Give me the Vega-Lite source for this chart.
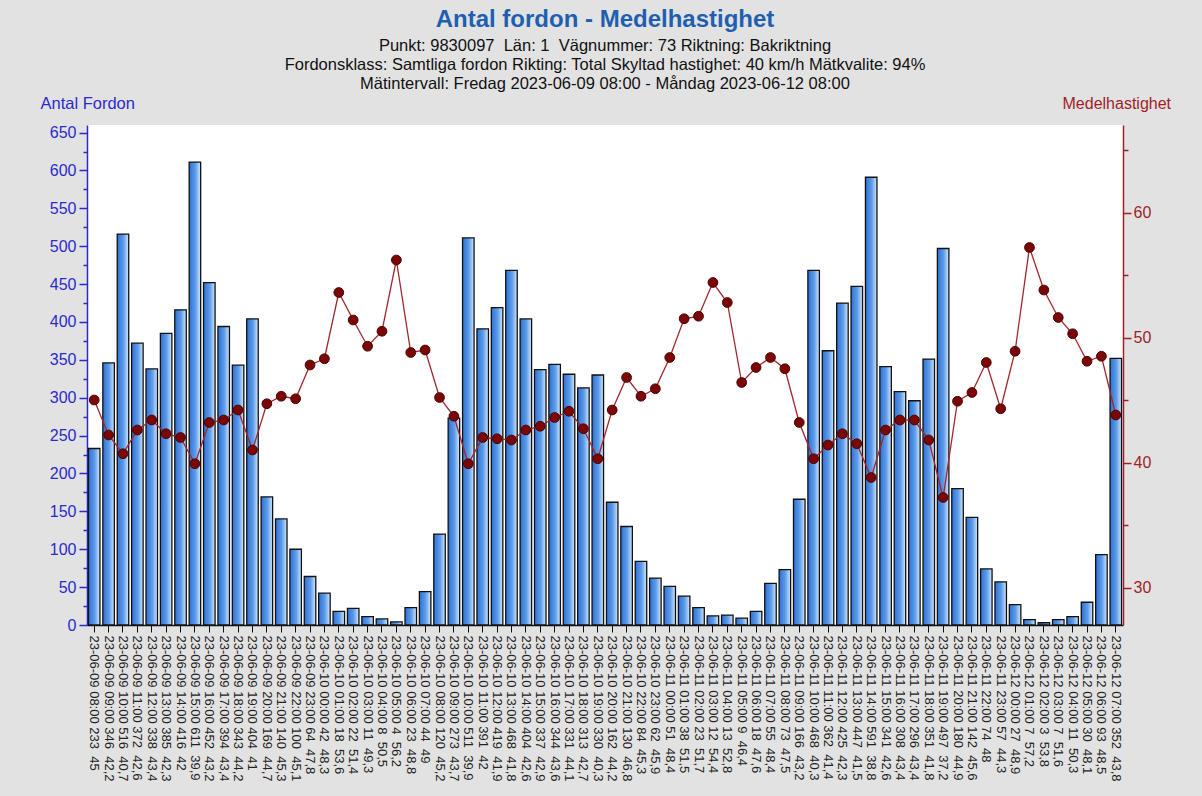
{
  "$schema": "https://vega.github.io/schema/vega-lite/v6.json",
  "width": 1036,
  "height": 500,
  "autosize": {"type": "none"},
  "padding": {"left": 87, "top": 125, "right": 79, "bottom": 171},
  "background": "#e2e2e2",
  "config": {"view": {"fill": "white", "stroke": null}, "font": "Liberation Sans"},
  "title": {
    "text": "Antal fordon - Medelhastighet",
    "subtitle": [
      "Punkt: 9830097\u00a0 Län: 1\u00a0 Vägnummer: 73 Riktning: Bakriktning",
      "Fordonsklass: Samtliga fordon Rikting: Total Skyltad hastighet: 40 km/h Mätkvalite: 94%",
      "Mätintervall: Fredag 2023-06-09 08:00 - Måndag 2023-06-12 08:00"
    ],
    "color": "#1f5fb0",
    "fontSize": 24,
    "fontWeight": "bold",
    "subtitleColor": "#111111",
    "subtitleFontSize": 16.5,
    "subtitleLineHeight": 19,
    "subtitlePadding": 6,
    "anchor": "middle",
    "frame": "group",
    "offset": 3
  },
  "data": {
    "values": [
      {"label": "23-06-09 08:00 233\u00a0\u00a045", "n": 233, "v": 45},
      {"label": "23-06-09 09:00 346\u00a0\u00a042,2", "n": 346, "v": 42.2},
      {"label": "23-06-09 10:00 516\u00a0\u00a040,7", "n": 516, "v": 40.7},
      {"label": "23-06-09 11:00 372\u00a0\u00a042,6", "n": 372, "v": 42.6},
      {"label": "23-06-09 12:00 338\u00a0\u00a043,4", "n": 338, "v": 43.4},
      {"label": "23-06-09 13:00 385\u00a0\u00a042,3", "n": 385, "v": 42.3},
      {"label": "23-06-09 14:00 416\u00a0\u00a042", "n": 416, "v": 42},
      {"label": "23-06-09 15:00 611\u00a0\u00a039,9", "n": 611, "v": 39.9},
      {"label": "23-06-09 16:00 452\u00a0\u00a043,2", "n": 452, "v": 43.2},
      {"label": "23-06-09 17:00 394\u00a0\u00a043,4", "n": 394, "v": 43.4},
      {"label": "23-06-09 18:00 343\u00a0\u00a044,2", "n": 343, "v": 44.2},
      {"label": "23-06-09 19:00 404\u00a0\u00a041", "n": 404, "v": 41},
      {"label": "23-06-09 20:00 169\u00a0\u00a044,7", "n": 169, "v": 44.7},
      {"label": "23-06-09 21:00 140\u00a0\u00a045,3", "n": 140, "v": 45.3},
      {"label": "23-06-09 22:00 100\u00a0\u00a045,1", "n": 100, "v": 45.1},
      {"label": "23-06-09 23:00 64\u00a0\u00a047,8", "n": 64, "v": 47.8},
      {"label": "23-06-10 00:00 42\u00a0\u00a048,3", "n": 42, "v": 48.3},
      {"label": "23-06-10 01:00 18\u00a0\u00a053,6", "n": 18, "v": 53.6},
      {"label": "23-06-10 02:00 22\u00a0\u00a051,4", "n": 22, "v": 51.4},
      {"label": "23-06-10 03:00 11\u00a0\u00a049,3", "n": 11, "v": 49.3},
      {"label": "23-06-10 04:00 8\u00a0\u00a050,5", "n": 8, "v": 50.5},
      {"label": "23-06-10 05:00 4\u00a0\u00a056,2", "n": 4, "v": 56.2},
      {"label": "23-06-10 06:00 23\u00a0\u00a048,8", "n": 23, "v": 48.8},
      {"label": "23-06-10 07:00 44\u00a0\u00a049", "n": 44, "v": 49},
      {"label": "23-06-10 08:00 120\u00a0\u00a045,2", "n": 120, "v": 45.2},
      {"label": "23-06-10 09:00 273\u00a0\u00a043,7", "n": 273, "v": 43.7},
      {"label": "23-06-10 10:00 511\u00a0\u00a039,9", "n": 511, "v": 39.9},
      {"label": "23-06-10 11:00 391\u00a0\u00a042", "n": 391, "v": 42},
      {"label": "23-06-10 12:00 419\u00a0\u00a041,9", "n": 419, "v": 41.9},
      {"label": "23-06-10 13:00 468\u00a0\u00a041,8", "n": 468, "v": 41.8},
      {"label": "23-06-10 14:00 404\u00a0\u00a042,6", "n": 404, "v": 42.6},
      {"label": "23-06-10 15:00 337\u00a0\u00a042,9", "n": 337, "v": 42.9},
      {"label": "23-06-10 16:00 344\u00a0\u00a043,6", "n": 344, "v": 43.6},
      {"label": "23-06-10 17:00 331\u00a0\u00a044,1", "n": 331, "v": 44.1},
      {"label": "23-06-10 18:00 313\u00a0\u00a042,7", "n": 313, "v": 42.7},
      {"label": "23-06-10 19:00 330\u00a0\u00a040,3", "n": 330, "v": 40.3},
      {"label": "23-06-10 20:00 162\u00a0\u00a044,2", "n": 162, "v": 44.2},
      {"label": "23-06-10 21:00 130\u00a0\u00a046,8", "n": 130, "v": 46.8},
      {"label": "23-06-10 22:00 84\u00a0\u00a045,3", "n": 84, "v": 45.3},
      {"label": "23-06-10 23:00 62\u00a0\u00a045,9", "n": 62, "v": 45.9},
      {"label": "23-06-11 00:00 51\u00a0\u00a048,4", "n": 51, "v": 48.4},
      {"label": "23-06-11 01:00 38\u00a0\u00a051,5", "n": 38, "v": 51.5},
      {"label": "23-06-11 02:00 23\u00a0\u00a051,7", "n": 23, "v": 51.7},
      {"label": "23-06-11 03:00 12\u00a0\u00a054,4", "n": 12, "v": 54.4},
      {"label": "23-06-11 04:00 13\u00a0\u00a052,8", "n": 13, "v": 52.8},
      {"label": "23-06-11 05:00 9\u00a0\u00a046,4", "n": 9, "v": 46.4},
      {"label": "23-06-11 06:00 18\u00a0\u00a047,6", "n": 18, "v": 47.6},
      {"label": "23-06-11 07:00 55\u00a0\u00a048,4", "n": 55, "v": 48.4},
      {"label": "23-06-11 08:00 73\u00a0\u00a047,5", "n": 73, "v": 47.5},
      {"label": "23-06-11 09:00 166\u00a0\u00a043,2", "n": 166, "v": 43.2},
      {"label": "23-06-11 10:00 468\u00a0\u00a040,3", "n": 468, "v": 40.3},
      {"label": "23-06-11 11:00 362\u00a0\u00a041,4", "n": 362, "v": 41.4},
      {"label": "23-06-11 12:00 425\u00a0\u00a042,3", "n": 425, "v": 42.3},
      {"label": "23-06-11 13:00 447\u00a0\u00a041,5", "n": 447, "v": 41.5},
      {"label": "23-06-11 14:00 591\u00a0\u00a038,8", "n": 591, "v": 38.8},
      {"label": "23-06-11 15:00 341\u00a0\u00a042,6", "n": 341, "v": 42.6},
      {"label": "23-06-11 16:00 308\u00a0\u00a043,4", "n": 308, "v": 43.4},
      {"label": "23-06-11 17:00 296\u00a0\u00a043,4", "n": 296, "v": 43.4},
      {"label": "23-06-11 18:00 351\u00a0\u00a041,8", "n": 351, "v": 41.8},
      {"label": "23-06-11 19:00 497\u00a0\u00a037,2", "n": 497, "v": 37.2},
      {"label": "23-06-11 20:00 180\u00a0\u00a044,9", "n": 180, "v": 44.9},
      {"label": "23-06-11 21:00 142\u00a0\u00a045,6", "n": 142, "v": 45.6},
      {"label": "23-06-11 22:00 74\u00a0\u00a048", "n": 74, "v": 48},
      {"label": "23-06-11 23:00 57\u00a0\u00a044,3", "n": 57, "v": 44.3},
      {"label": "23-06-12 00:00 27\u00a0\u00a048,9", "n": 27, "v": 48.9},
      {"label": "23-06-12 01:00 7\u00a0\u00a057,2", "n": 7, "v": 57.2},
      {"label": "23-06-12 02:00 3\u00a0\u00a053,8", "n": 3, "v": 53.8},
      {"label": "23-06-12 03:00 7\u00a0\u00a051,6", "n": 7, "v": 51.6},
      {"label": "23-06-12 04:00 11\u00a0\u00a050,3", "n": 11, "v": 50.3},
      {"label": "23-06-12 05:00 30\u00a0\u00a048,1", "n": 30, "v": 48.1},
      {"label": "23-06-12 06:00 93\u00a0\u00a048,5", "n": 93, "v": 48.5},
      {"label": "23-06-12 07:00 352\u00a0\u00a043,8", "n": 352, "v": 43.8}
    ]
  },
  "encoding": {
    "x": {
      "field": "label",
      "type": "ordinal",
      "sort": null,
      "scale": {"paddingInner": 0.2, "paddingOuter": 0.1},
      "axis": {
        "title": null,
        "labelAngle": 90,
        "labelAlign": "left",
        "labelBaseline": "middle",
        "labelFontSize": 13,
        "labelColor": "#222222",
        "labelPadding": 3,
        "labelLimit": 250,
        "tickSize": 7,
        "tickColor": "#111111",
        "domainColor": "#111111",
        "domainWidth": 1.5
      }
    }
  },
  "layer": [
    {
      "mark": {
        "type": "bar",
        "color": {
          "gradient": "linear",
          "x1": 0, "x2": 1, "y1": 0, "y2": 0,
          "stops": [
            {"offset": 0, "color": "#2c70d8"},
            {"offset": 0.55, "color": "#5e9de9"},
            {"offset": 1, "color": "#d6e7f8"}
          ]
        },
        "stroke": "#111111",
        "strokeWidth": 1.3
      },
      "encoding": {
        "y": {
          "field": "n",
          "type": "quantitative",
          "scale": {"domain": [0, 660], "nice": false, "zero": true},
          "axis": {
            "orient": "left",
            "values": [0,25,50,75,100,125,150,175,200,225,250,275,300,325,350,375,400,425,450,475,500,525,550,575,600,625,650],
            "labelExpr": "datum.value % 50 === 0 ? datum.label : ''",
            "tickSize": {"condition": {"test": "datum.value % 50 === 0", "value": 8}, "value": 4},
            "tickColor": "#2a2acc",
            "tickWidth": 1.5,
            "domainColor": "#2a2acc",
            "domainWidth": 1.5,
            "labelColor": "#2a2acc",
            "labelFontSize": 16,
            "labelPadding": 3,
            "grid": false,
            "title": "Antal Fordon",
            "titleColor": "#2a2acc",
            "titleFontSize": 16.5,
            "titleFontWeight": "normal",
            "titleAngle": 0,
            "titleAlign": "left",
            "titleBaseline": "middle",
            "titleX": -47,
            "titleY": -22
          }
        }
      }
    },
    {
      "encoding": {
        "y": {
          "field": "v",
          "type": "quantitative",
          "scale": {"domain": [27, 67], "nice": false, "zero": false},
          "axis": {
            "orient": "right",
            "values": [30, 35, 40, 45, 50, 55, 60, 65],
            "labelExpr": "datum.value % 10 === 0 ? datum.label : ''",
            "tickSize": {"condition": {"test": "datum.value % 10 === 0", "value": 8}, "value": 5},
            "tickColor": "#a01e28",
            "tickWidth": 1.5,
            "domainColor": "#a01e28",
            "domainWidth": 1.5,
            "labelColor": "#a01e28",
            "labelFontSize": 16,
            "labelPadding": 2,
            "grid": false,
            "title": "Medelhastighet",
            "titleColor": "#a01e28",
            "titleFontSize": 16,
            "titleFontWeight": "normal",
            "titleAngle": 0,
            "titleAlign": "left",
            "titleBaseline": "middle",
            "titleX": -61,
            "titleY": -22
          }
        }
      },
      "layer": [
        {"mark": {"type": "line", "color": "#a3262c", "strokeWidth": 1.3}},
        {"mark": {"type": "point", "filled": true, "size": 95, "color": "#7a0606", "stroke": "#4a0000", "strokeWidth": 1, "opacity": 1}}
      ]
    }
  ],
  "resolve": {"scale": {"y": "independent"}}
}
